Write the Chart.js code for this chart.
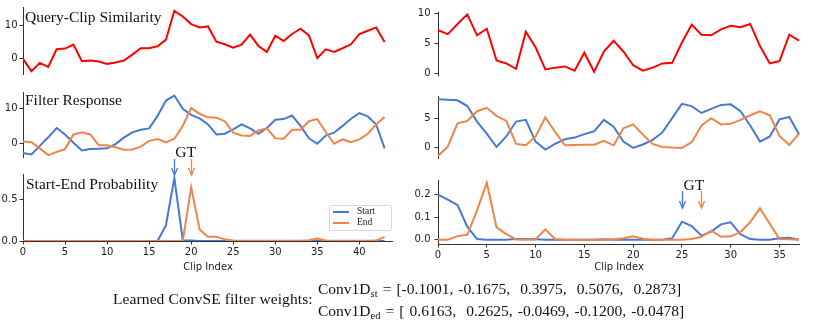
<!DOCTYPE html>
<html>
<head>
<meta charset="utf-8">
<script src="https://cdn.jsdelivr.net/npm/chart.js@4.4.0/dist/chart.umd.min.js"></script>
<style>
  body { margin: 0; background: #fff; width: 814px; height: 320px; position: relative; overflow: hidden; font-family: 'Liberation Serif', serif; }
  canvas { position: absolute; }
  .ttl { position: absolute; font-size: 15.5px; line-height: 1; color: #111; white-space: nowrap; }
  .eq { position: absolute; font-size: 15.5px; line-height: 1; color: #111; white-space: pre; word-spacing: 1.2px; }
  .eq sub { font-size: 10.5px; vertical-align: -3px; line-height: 0; word-spacing: 0; }
  .legend { position: absolute; left: 329px; top: 205px; width: 61px; height: 24px; border: 1px solid #d8d8d8; border-radius: 2px; background: rgba(255,255,255,0.8); font-size: 9.5px; color: #222; }
  .legend .row { position: absolute; left: 3px; height: 11px; line-height: 11px; white-space: nowrap; }
  .legend .sw { display: inline-block; width: 16px; height: 2px; vertical-align: middle; margin-right: 8px; }
</style>
</head>
<body>
<canvas id="simL"></canvas>
<canvas id="respL"></canvas>
<canvas id="probL"></canvas>
<canvas id="simR"></canvas>
<canvas id="respR"></canvas>
<canvas id="probR"></canvas>

<div class="ttl" style="left:25px;top:8.5px">Query-Clip Similarity</div>
<div class="ttl" style="left:25px;top:91.5px">Filter Response</div>
<div class="ttl" style="left:26px;top:175.5px">Start-End Probability</div>

<div class="legend">
  <div class="row" style="top:0px"><span class="sw" style="background:#4878d0"></span>Start</div>
  <div class="row" style="top:11px"><span class="sw" style="background:#ee854a"></span>End</div>
</div>

<div class="ttl" style="left:113px;top:291px;letter-spacing:0.1px">Learned ConvSE filter weights:</div>
<div class="eq" style="left:318px;top:281px">Conv1D<sub>st</sub> = [-0.1001, -0.1675,  0.3975,  0.5076,  0.2873]</div>
<div class="eq" style="left:318px;top:303px">Conv1D<sub>ed</sub> = [ 0.6163,  0.2625, -0.0469, -0.1200, -0.0478]</div>

<script>
// Left example (44 clips)
const simL = [-0.2, -3.9, -1.4, -2.6, 2.7, 2.9, 4.1, -0.9, -0.7, -1.0, -1.7, -1.3, -0.7, 1.1, 3.0, 3.0, 3.6, 5.6, 14.3, 12.6,
              10.3, 9.3, 9.6, 5.0, 4.2, 3.2, 4.1, 7.1, 3.7, 1.9, 6.8, 5.2, 7.3, 8.9, 6.9, 0.0, 2.7, 1.9, 3.0, 4.2, 7.3, 8.3, 9.3, 4.9];
const respStartL = [-2.6, -3.0, -0.6, 1.8, 4.4, 2.6, 0.3, -1.9, -1.5, -1.4, -1.3, -0.1, 1.7, 3.2, 3.9, 4.3, 7.8, 12.1, 13.5, 9.8,
                    8.1, 7.1, 5.4, 2.6, 2.8, 4.0, 5.4, 4.3, 2.8, 4.4, 6.7, 6.9, 7.9, 5.0, 1.5, 0.0, 2.3, 3.1, 5.0, 7.0, 8.6, 7.7, 5.4, -1.3];
const respEndL = [0.6, 0.4, -1.3, -3.2, -2.3, -1.5, 2.6, 3.2, 2.6, -0.4, -0.4, -1.0, -1.7, -1.6, -0.8, 0.8, 1.3, 0.4, 1.4, 5.0,
                  10.0, 8.4, 7.4, 7.3, 6.3, 3.1, 2.3, 2.2, 3.7, 4.3, 1.5, 1.4, 3.9, 3.9, 6.3, 6.9, 3.3, 0.0, 1.2, 0.4, 1.2, 2.8, 5.4, 7.5];
const probStartL = [0, 0, 0, 0, 0, 0, 0, 0, 0, 0, 0, 0, 0, 0, 0, 0, 0, 0.19, 0.76, 0.01,
                    0.005, 0, 0, 0, 0, 0, 0, 0, 0, 0, 0, 0, 0, 0, 0, 0, 0, 0, 0, 0, 0, 0, 0, 0];
const probEndL = [0, 0, 0, 0, 0, 0, 0, 0, 0, 0, 0, 0, 0, 0, 0, 0, 0, 0, 0, 0,
                  0.65, 0.14, 0.05, 0.05, 0.02, 0.005, 0.002, 0.002, 0.002, 0.002, 0.002, 0.002, 0.002, 0.002, 0.01, 0.03, 0.005, 0.002, 0.002, 0.002, 0.002, 0.002, 0.005, 0.05];

// Right example (38 clips)
const simR = [7.15, 6.5, 8.2, 9.8, 6.3, 7.4, 2.1, 1.6, 0.7, 6.9, 4.3, 0.6, 0.9, 1.1, 0.4, 3.4, 0.2, 3.6, 5.4, 3.6,
              1.3, 0.4, 0.9, 1.6, 1.7, 5.1, 8.1, 6.4, 6.3, 7.3, 7.9, 7.65, 8.2, 4.5, 1.6, 2.0, 6.4, 5.4];
const respStartR = [8.4, 8.3, 8.2, 7.2, 4.5, 2.4, 0.05, 1.9, 4.5, 4.8, 1.0, -0.4, 0.6, 1.4, 1.7, 2.3, 2.8, 4.8, 3.6, 1.0,
                    -0.1, 0.5, 1.3, 2.6, 5.1, 7.6, 7.2, 6.0, 6.7, 7.4, 7.5, 6.3, 3.8, 1.0, 1.9, 4.9, 5.3, 2.3];
const respEndR = [-1.5, 0.1, 4.2, 4.6, 6.3, 6.9, 5.5, 4.6, 0.6, 0.35, 1.9, 5.2, 2.7, 0.35, 0.4, 0.45, 0.45, 1.15, 0.35, 3.3,
                  4.0, 2.2, 0.6, 0.05, -0.05, -0.1, 0.9, 3.8, 5.1, 4.0, 4.1, 4.8, 5.6, 6.3, 5.6, 2.0, 0.4, 2.4];
const probStartR = [0.2, 0.178, 0.154, 0.058, 0.003, 0, 0, 0, 0.003, 0.003, 0.002, 0, 0, 0, 0, 0, 0, 0.002, 0, 0,
                    0, 0, 0, 0, 0.007, 0.08, 0.061, 0.018, 0.036, 0.068, 0.077, 0.024, 0.003, 0, 0, 0.006, 0.009, 0];
const probEndR = [0, 0, 0.016, 0.022, 0.13, 0.253, 0.055, 0.025, 0.001, 0, 0.001, 0.046, 0.003, 0, 0, 0, 0, 0, 0.002, 0.007,
                  0.015, 0.004, 0, 0, 0, 0, 0.003, 0.013, 0.04, 0.013, 0.015, 0.034, 0.078, 0.139, 0.071, 0.003, 0.002, 0];

// Ground truth start/end clip
const gtL = [18, 20];
const gtR = [25, 27];

// Tick values and labels
const xTicksL = [0, 5, 10, 15, 20, 25, 30, 35, 40];
const xTicksR = [0, 5, 10, 15, 20, 25, 30, 35];
const yTicksSimL = [0, 10],  yLabelsSimL = ['0', '10'];
const yTicksRespL = [0, 10], yLabelsRespL = ['0', '10'];
const yTicksProbL = [0, 0.5], yLabelsProbL = ['0.0', '0.5'];
const yTicksSimR = [0, 5, 10], yLabelsSimR = ['0', '5', '10'];
const yTicksRespR = [0, 5], yLabelsRespR = ['0', '5'];
const yTicksProbR = [0, 0.1, 0.2], yLabelsProbR = ['0.0', '0.1', '0.2'];

const RED = '#ff0000', BLUE = '#4878d0', ORANGE = '#ee854a';
const axisColor = '#333333', tickColor = '#222222';

// Draws the GT label and the two arrows above the probability curves
const gtPlugin = {
    id: 'gtMarker',
    afterDatasetsDraw(chart, args, opts) {
        const ctx = chart.ctx;
        const xs = chart.scales.x;
        const top = chart.chartArea.top;
        ctx.save();
        opts.xs.forEach((v, i) => {
            const px = Math.round(xs.getPixelForValue(v)) + 0.5;
            ctx.strokeStyle = opts.colors[i];
            ctx.lineWidth = 1.3;
            ctx.beginPath();
            ctx.moveTo(px, top + opts.tail);
            ctx.lineTo(px, top + opts.tip);
            ctx.stroke();
            ctx.beginPath();
            ctx.moveTo(px - 3, top + opts.tip - 7);
            ctx.lineTo(px, top + opts.tip);
            ctx.lineTo(px + 3, top + opts.tip - 7);
            ctx.stroke();
        });
        ctx.fillStyle = '#111';
        ctx.font = '15.5px "Liberation Serif"';
        ctx.textBaseline = 'alphabetic';
        ctx.fillText('GT', xs.getPixelForValue(opts.xs[0]) + opts.textDx, top + opts.textY);
        ctx.restore();
    }
};

const panels = [
    { id: 'simL', left: 0, top: 7, width: 393, height: 68, yAxisW: 23, yTickPad: 2, xMax: 44,
      yMin: -5.06, yMax: 15.45, yTicks: yTicksSimL, yLabels: yLabelsSimL,
      series: [{ values: simL, color: RED, order: 0 }] },
    { id: 'respL', left: 0, top: 92, width: 393, height: 66, yAxisW: 23, yTickPad: 2, xMax: 44,
      yMin: -4.0, yMax: 14.5, yTicks: yTicksRespL, yLabels: yLabelsRespL,
      series: [{ values: respStartL, color: BLUE, order: 1 }, { values: respEndL, color: ORANGE, order: 0 }] },
    { id: 'probL', left: 0, top: 145, width: 393, height: 128, padTop: 29, xAxisH: 32, yAxisW: 23, yTickPad: 2, xMax: 44,
      yMin: 0, yMax: 0.81, yTicks: yTicksProbL, yLabels: yLabelsProbL, xTicks: xTicksL,
      series: [{ values: probStartL, color: BLUE, order: 1 }, { values: probEndL, color: ORANGE, order: 0 }],
      gt: { xs: gtL, colors: [BLUE, ORANGE], tail: -15, tip: 1, textY: -17, textDx: 1 } },
    { id: 'simR', left: 400, top: 2, width: 400, height: 81, padTop: 10, padBottom: 8, yAxisW: 38, yTickPad: 4, xMax: 37.1,
      yMin: -0.33, yMax: 10.2, yTicks: yTicksSimR, yLabels: yLabelsSimR,
      series: [{ values: simR, color: RED, order: 0 }] },
    { id: 'respR', left: 400, top: 96, width: 400, height: 63, yAxisW: 38, yTickPad: 4, xMax: 37.1,
      yMin: -2.04, yMax: 8.96, yTicks: yTicksRespR, yLabels: yLabelsRespR,
      series: [{ values: respStartR, color: BLUE, order: 1 }, { values: respEndR, color: ORANGE, order: 0 }] },
    { id: 'probR', left: 400, top: 175, width: 400, height: 98, padTop: 5, xAxisH: 29, yAxisW: 38, yTickPad: 4, xMax: 37.1,
      yMin: -0.019, yMax: 0.265, yTicks: yTicksProbR, yLabels: yLabelsProbR, xTicks: xTicksR,
      series: [{ values: probStartR, color: BLUE, order: 1 }, { values: probEndR, color: ORANGE, order: 0 }],
      gt: { xs: gtR, colors: [BLUE, ORANGE], tail: 11, tip: 28, textY: 10, textDx: 1.5 } }
];

function buildChart(p) {
    const canvas = document.getElementById(p.id);
    canvas.width = p.width;
    canvas.height = p.height;
    canvas.style.left = p.left + 'px';
    canvas.style.top = p.top + 'px';
    canvas.style.width = p.width + 'px';
    canvas.style.height = p.height + 'px';

    const datasets = p.series.map(s => ({
        data: s.values.map((v, i) => ({ x: i, y: v })),
        borderColor: s.color,
        borderWidth: 2,
        pointRadius: 0,
        tension: 0,
        fill: false,
        order: s.order
    }));
    const tickFont = { family: 'DejaVu Sans', size: 10 };

    return new Chart(canvas, {
        type: 'line',
        data: { datasets: datasets },
        plugins: p.gt ? [gtPlugin] : [],
        options: {
            responsive: false,
            animation: false,
            events: [],
            layout: { padding: { top: p.padTop || 0, left: 0, right: 0, bottom: p.padBottom || 0 }, autoPadding: false },
            plugins: {
                legend: { display: false },
                tooltip: { enabled: false },
                gtMarker: p.gt || {}
            },
            scales: {
                x: {
                    type: 'linear',
                    min: 0,
                    max: p.xMax,
                    display: !!p.xTicks,
                    border: { display: true, color: axisColor, width: 1 },
                    grid: { drawOnChartArea: false, drawTicks: true, tickLength: 3.5, color: axisColor },
                    ticks: { font: tickFont, color: tickColor, padding: 2, maxRotation: 0, autoSkip: false },
                    title: { display: !!p.xTicks, text: 'Clip Index', font: tickFont, color: tickColor, padding: 0 },
                    afterBuildTicks: s => { if (p.xTicks) s.ticks = p.xTicks.map(v => ({ value: v })); },
                    afterFit: s => { s.height = p.xAxisH || 0; s.paddingLeft = 0; s.paddingRight = 0; }
                },
                y: {
                    min: p.yMin,
                    max: p.yMax,
                    border: { display: true, color: axisColor, width: 1 },
                    grid: { drawOnChartArea: false, drawTicks: true, tickLength: 3.5, color: axisColor },
                    ticks: {
                        font: tickFont, color: tickColor, padding: p.yTickPad,
                        callback: (v, i) => p.yLabels[i]
                    },
                    afterBuildTicks: s => { s.ticks = p.yTicks.map(v => ({ value: v })); },
                    afterFit: s => { s.width = p.yAxisW; s.paddingTop = 0; s.paddingBottom = 0; }
                }
            }
        }
    });
}

panels.forEach(buildChart);
</script>
</body>
</html>
